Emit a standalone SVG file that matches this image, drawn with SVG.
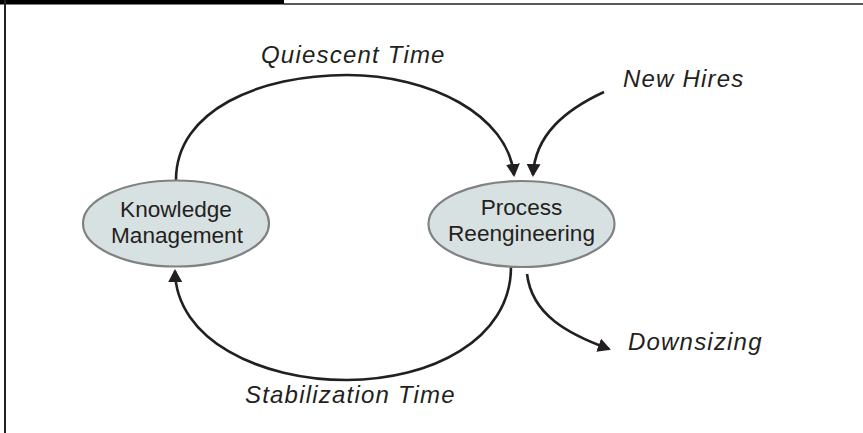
<svg xmlns="http://www.w3.org/2000/svg" width="863" height="433" viewBox="0 0 863 433">
<style>
.node ellipse{fill:#d8e1e2;stroke:#7f8283;stroke-width:2.2}
.node text{font-family:"Liberation Sans",Arial,sans-serif;font-size:22.6px;fill:#231f20;text-anchor:middle}
.lbl{font-family:"Liberation Sans",Arial,sans-serif;font-size:24px;font-style:italic;fill:#231f20;letter-spacing:1.2px}
.conn path{fill:none;stroke:#231f20;stroke-width:2.6;marker-end:url(#ah)}
</style>
<defs>
<marker id="ah" markerUnits="userSpaceOnUse" viewBox="0 0 13 14" refX="11" refY="7" markerWidth="13" markerHeight="14" orient="auto">
<path d="M0,0 L13,7 L0,14 z" fill="#231f20"/>
</marker>
</defs>
<rect width="863" height="433" fill="#ffffff"/>
<g id="frame">
<rect x="0" y="0" width="284" height="4.5" fill="#000000"/>
<line x1="284" y1="4" x2="863" y2="4" stroke="#222222" stroke-width="1.6"/>
<line x1="5" y1="0" x2="5" y2="433" stroke="#222222" stroke-width="2"/>
</g>
<g class="conn" id="connectors">
<path d="M176,180 C176,110 260,75 347,75 C430,75 508,115 514,175"/>
<path d="M604,92 C565,110 535,135 533,175"/>
<path d="M511,267 C511,340 430,380 347,380 C260,380 176,340 175,271"/>
<path d="M527,274 C532,315 568,334 609,349"/>
</g>
<g class="node" id="knowledge-management">
<ellipse cx="176" cy="223.5" rx="93" ry="43"/>
<text x="176" y="217">Knowledge</text>
<text x="177" y="243">Management</text>
</g>
<g class="node" id="process-reengineering">
<ellipse cx="521.5" cy="224" rx="93" ry="43"/>
<text x="521.5" y="215">Process</text>
<text x="521.5" y="241">Reengineering</text>
</g>
<g id="labels">
<text class="lbl" x="261" y="63">Quiescent Time</text>
<text class="lbl" x="623" y="87">New Hires</text>
<text class="lbl" x="245" y="403">Stabilization Time</text>
<text class="lbl" x="628" y="350">Downsizing</text>
</g>
</svg>
